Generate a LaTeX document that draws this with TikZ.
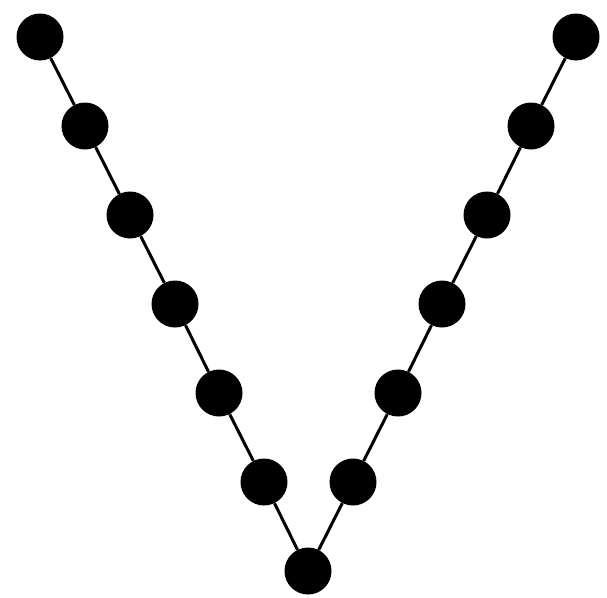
\documentclass[tikz,border=0pt]{standalone}
\begin{document}
\begin{tikzpicture}[x=1pt,y=-1pt,
  dot/.style={circle,fill=black,draw=none,minimum size=47pt,inner sep=0pt},
  edge/.style={line width=3pt,black}]
\useasboundingbox (0,0) rectangle (607,597);
\node[dot] (l1) at (40,37) {};
\node[dot] (l2) at (85,126) {};
\node[dot] (l3) at (130,215) {};
\node[dot] (l4) at (175,304) {};
\node[dot] (l5) at (219,393) {};
\node[dot] (l6) at (264,482) {};
\node[dot] (b) at (308,571) {};
\node[dot] (r6) at (353,482) {};
\node[dot] (r5) at (398,393) {};
\node[dot] (r4) at (442,304) {};
\node[dot] (r3) at (487,215) {};
\node[dot] (r2) at (531,126) {};
\node[dot] (r1) at (576,37) {};
\begin{scope}[on background layer/.try]
\end{scope}
\draw[edge] (l1) -- (l2) -- (l3) -- (l4) -- (l5) -- (l6) -- (b) -- (r6) -- (r5) -- (r4) -- (r3) -- (r2) -- (r1);
\end{tikzpicture}
\end{document}
